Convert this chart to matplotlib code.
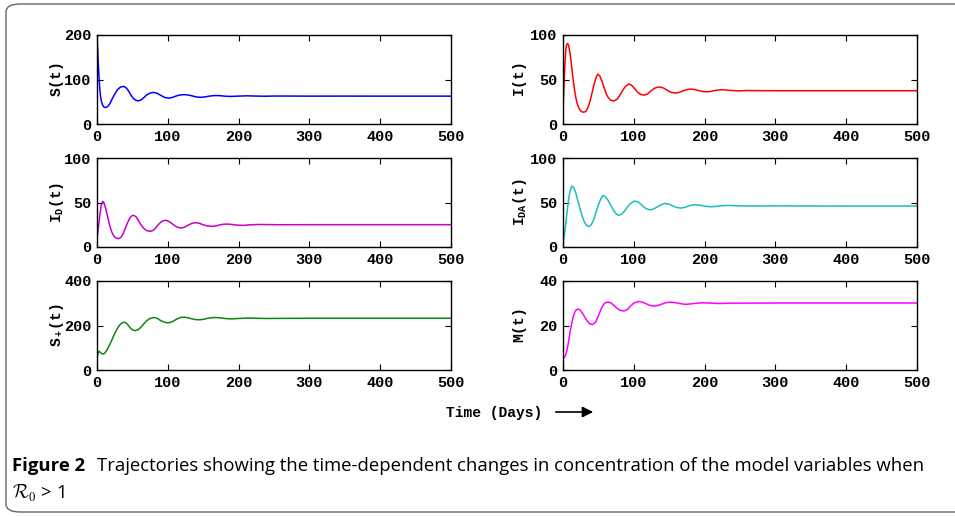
import matplotlib
matplotlib.use("Agg")
import matplotlib.pyplot as plt
from matplotlib.patches import FancyBboxPatch, FancyArrowPatch

# values (time in days)
t_S = [0, 1, 2, 3, 4, 5, 6, 8, 10, 12, 15, 18, 21, 25, 29, 33, 38, 42, 45, 48, 51, 54, 58, 62, 66, 70,
       75, 80, 85, 90, 95, 101, 106, 112, 118, 125, 131, 136, 141, 147, 153, 158, 163, 168, 175, 182,
       190, 200, 212, 224, 236, 250, 270, 300, 350, 400, 450, 500]
S = [200, 165, 130, 100, 78, 62, 52, 42, 38, 37, 39, 45, 55, 67, 77, 83, 84.5, 80, 73, 65, 58, 54, 52,
     54, 59, 65, 69.5, 71, 69, 64.5, 60, 58, 59.5, 63, 65.5, 66, 64.5, 62.5, 60.5, 60, 61, 62.5, 63.5,
     64, 63.5, 62.3, 62, 62.7, 63.3, 62.8, 62.4, 62.8, 62.8, 62.6, 62.7, 62.6, 62.6, 62.6]

t_I = [0, 1, 2, 3, 4, 5, 6.6, 8, 10, 12, 14, 16, 18, 20, 23, 26, 29, 32, 35, 38, 41, 44, 47, 49, 52,
       55, 58, 61, 64, 68, 72, 76, 80, 84, 88, 93, 97, 101, 105, 110, 115, 120, 124, 129, 133, 138,
       143, 148, 153, 160, 166, 171, 176, 182, 188, 193, 198, 204, 210, 215, 220, 226, 235, 248, 260,
       275, 300, 400, 500]
I = [16, 35, 55, 72, 84, 89, 90.6, 88, 79, 66, 52, 40, 30, 23, 17, 14, 13.2, 14, 18, 25, 35, 45, 53,
     56, 54, 48, 41, 34, 29.5, 26.5, 26, 27.5, 32, 37.5, 42, 45, 43.5, 40, 36, 33, 32.5, 34, 37, 40,
     41.3, 41.5, 40, 37.5, 35.5, 34.7, 36, 37.7, 38.9, 39.2, 38.4, 37.2, 36.4, 36.2, 36.8, 37.7, 38.3,
     38.5, 37.8, 37.2, 37.6, 37.5, 37.4, 37.4, 37.4]

t_ID = [0, 2, 4, 6, 8, 10, 12, 15, 18, 21, 24, 27, 30.7, 34, 37, 40, 43, 46, 49, 52, 55, 58, 62, 66,
        70, 75, 79, 83, 87, 91, 96, 100, 104, 108, 113, 118, 123, 127, 131, 135, 139.5, 145, 150, 155,
        162, 168, 173, 178, 183.5, 190, 196, 206, 215, 228, 240, 260, 300, 400, 500]
I_D = [10, 22, 36, 47, 51.3, 49.5, 44, 34, 24, 16.5, 12, 10, 9.4, 11, 15, 21, 27, 32, 35, 35.6, 34,
       30.5, 25, 21, 18.5, 17.6, 18.5, 21.5, 25.5, 28.5, 30, 29.3, 27.5, 25, 22.5, 21.3, 22, 23.7, 25.5,
       26.8, 27.3, 26.5, 25, 23.8, 23.2, 23.7, 24.7, 25.5, 25.8, 25.4, 24.7, 24.3, 24.8, 25.3, 25.2, 25,
       25.1, 25.1, 25.1]

t_IDA = [0, 2, 4, 6, 8, 10, 12.3, 15, 18, 21, 24, 27, 30, 33, 36.4, 40, 43, 46, 49, 52, 54.5, 56.7, 60,
         64, 68, 72, 75.5, 79, 83, 87, 91, 95, 101, 106, 110, 114, 118, 123, 128, 133, 138, 144, 150,
         155, 160, 166, 172, 177, 182, 187.5, 195, 203, 210, 218, 226, 235, 250, 270, 300, 400, 500]
I_DA = [5, 14, 27, 41, 54, 63, 68.4, 67, 61, 52, 43, 35, 28.5, 24.5, 22.8, 25, 30, 37, 45, 51.5, 56,
        57.8, 56.5, 52, 46, 40.5, 37, 35.7, 37, 40.5, 45, 48.7, 51.7, 50.5, 48, 45, 42.8, 41.8, 42.7, 45,
        47.3, 49, 48, 46.3, 44.5, 43.7, 44.5, 46, 47, 47.5, 46.7, 45.6, 45.2, 45.8, 46.5, 46.7, 46.2,
        46.1, 46.2, 46, 46]

t_Sp = [0, 1, 2, 3, 5, 7, 9, 11, 14, 17, 20, 23, 26, 29, 32, 35, 38, 41, 44, 47, 50, 54, 58, 62, 66,
        70, 75, 80.4, 85, 89, 94, 99, 104, 109, 114, 118, 123, 128, 133, 138, 144, 150, 156, 162, 168,
        175, 182, 190, 200, 212, 225, 240, 260, 300, 400, 500]
S_plus = [50, 70, 82, 84, 78, 73, 72, 76, 90, 108, 128, 150, 170, 188, 202, 211, 215, 212, 201, 189,
          180, 177, 181, 192, 207, 221, 232, 236, 232, 224, 216, 212, 214, 222, 231, 236, 237.6, 235,
          231, 227, 225.6, 227.5, 232, 235, 236, 234, 231, 230, 231.5, 233.5, 232.5, 231.5, 232, 232.5,
          232.5, 232.5]

t_M = [0, 2, 4, 6, 8, 10, 12, 14, 16, 18, 21, 24, 27, 30, 33, 36, 39, 42.5, 46, 49, 52, 55, 58, 61,
       64.7, 68, 72, 76, 80, 86, 91, 95, 99, 103, 107, 112, 117, 122, 129, 135, 141, 146, 152, 158,
       164, 173, 180, 188, 196, 205, 220, 240, 260, 300, 400, 500]
M = [5.3, 5.6, 7, 9.5, 13, 17, 20.5, 23.5, 25.5, 26.8, 27.4, 27, 25.8, 24.2, 22.6, 21.3, 20.6, 20.5,
     21.5, 23.5, 26, 28.2, 29.7, 30.4, 30.5, 30.1, 29, 27.8, 26.9, 26.5, 27.2, 28.6, 29.8, 30.5, 30.8,
     30.5, 29.8, 29.1, 28.7, 29.1, 29.8, 30.3, 30.5, 30.3, 29.9, 29.5, 29.7, 30, 30.2, 30.1, 29.9,
     30.05, 30.05, 30.1, 30.1, 30.1]

panels = [
    (t_S, S, "#0000ff", "$S(t)$", [0, 100, 200]),
    (t_I, I, "#ff0000", "$I(t)$", [0, 50, 100]),
    (t_ID, I_D, "#c800c8", "$I_D(t)$", [0, 50, 100]),
    (t_IDA, I_DA, "#1bbdbd", "$I_{DA}(t)$", [0, 50, 100]),
    (t_Sp, S_plus, "#0f820f", "$S_+(t)$", [0, 200, 400]),
    (t_M, M, "#ff00ff", "$M(t)$", [0, 20, 40]),
]
xticks = [0, 100, 200, 300, 400, 500]

plt.rcParams["font.family"] = ["Liberation Mono", "DejaVu Sans Mono"]
plt.rcParams["mathtext.fontset"] = "custom"
plt.rcParams["mathtext.rm"] = "Liberation Mono:bold"
plt.rcParams["mathtext.it"] = "Liberation Mono:bold"
plt.rcParams["mathtext.bf"] = "Liberation Mono:bold"

fig = plt.figure(figsize=(9.55, 5.16), dpi=100)

lefts = [97 / 955, 563 / 955]
bottoms = [1 - 124 / 516, 1 - 247 / 516, 1 - 370 / 516]
w = 354 / 955
h = 89 / 516

for k, (tt, yy, col, lab, yt) in enumerate(panels):
    r, c = divmod(k, 2)
    ax = fig.add_axes([lefts[c], bottoms[r], w, h])
    ax.plot(tt, yy, color=col, lw=1.1)
    ax.set_xlim(0, 500)
    ax.set_ylim(yt[0], yt[-1])
    ax.set_xticks(xticks)
    ax.set_yticks(yt)
    ax.tick_params(direction="in", top=True, right=True, length=4, width=0.8,
                   labelsize=11, pad=4)
    for lb in ax.get_xticklabels() + ax.get_yticklabels():
        lb.set_fontweight("bold")
    for sp in ax.spines.values():
        sp.set_linewidth(1.0)
    ax.set_ylabel(lab, fontsize=10.5)
    ax.yaxis.set_label_coords(-0.088 if c == 0 else -0.097, 0.5)

fig.text(494 / 955, 1 - 413 / 516, "Time (Days)", ha="center", va="center", fontsize=10.5,
         fontweight="bold")
fig.patches.append(FancyArrowPatch((553 / 955, 1 - 412 / 516), (596 / 955, 1 - 412 / 516),
                                   transform=fig.transFigure, arrowstyle="-|>", mutation_scale=16,
                                   color="black", lw=1.2))

# caption
cap_font = ["Open Sans", "DejaVu Sans"]
fig.text(12 / 955, 1 - 466 / 516, "Figure 2", ha="left", va="center", fontsize=13.3,
         fontweight="bold", family=cap_font)
fig.text(97 / 955, 1 - 466 / 516,
         "Trajectories showing the time-dependent changes in concentration of the model variables when",
         ha="left", va="center", fontsize=13.3, fontweight="normal", family=cap_font)
fig.text(12 / 955, 1 - 493 / 516, r"$\mathcal{R}_\mathsf{0}$ > 1", ha="left", va="center",
         fontsize=13.3, fontweight="normal", family=cap_font, math_fontfamily="cm")

# frame around the figure
fig.patches.append(FancyBboxPatch((6 / 955, 4 / 516), 1.2, 1 - 8 / 516,
                                  boxstyle="round,pad=0,rounding_size=0.015",
                                  transform=fig.transFigure, fill=False, ec="#666666", lw=1.0))

fig.savefig("out.png", dpi=100)
